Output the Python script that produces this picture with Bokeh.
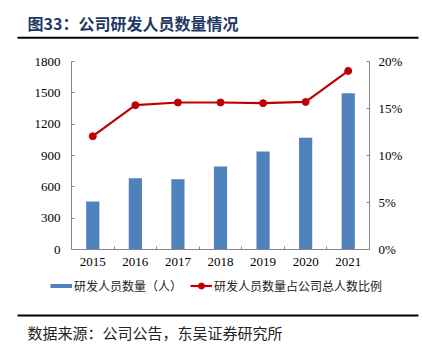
from bokeh.plotting import figure
from bokeh.models import (Range1d, LinearAxis, FixedTicker, Label, BoxAnnotation,
                          NumeralTickFormatter, Legend, LegendItem, ColumnDataSource)
from bokeh.embed import file_html
from bokeh.resources import INLINE

# ---------------- data ----------------
years = ["2015", "2016", "2017", "2018", "2019", "2020", "2021"]
staff = [460, 683, 673, 795, 939, 1070, 1497]              # 研发人员数量（人）
ratio_pct = [12.05, 15.35, 15.64, 15.64, 15.57, 15.70, 19.0]  # 占比 %
left_ticks = [0, 300, 600, 900, 1200, 1500, 1800]
right_ticks = [0, 0.05, 0.10, 0.15, 0.20]

title_text = "图33：公司研发人员数量情况"
source_text = "数据来源：公司公告，东吴证券研究所"
bar_label = "研发人员数量（人）"
line_label = "研发人员数量占公司总人数比例"

BLUE = "#4f81bd"
RED = "#c00000"
AXIS = "#868686"
SERIF = "Liberation Serif"
CJK = "Noto Sans CJK SC"

n = len(years)
centers = [i + 0.5 for i in range(n)]
bounds = [i for i in range(1, n)]
YMAX, PMAX = 1800, 0.2

src = ColumnDataSource(dict(x=centers, staff=staff,
                            ratio=[r / 100 for r in ratio_pct]))

# canvas & plot-area geometry (px); the frame covers the whole canvas and the
# axes are pinned to the plot-area edges with fixed_location
W, H = 423, 349
AL, AR, AT, AB = 71, 369, 61, 249
kx = n / (AR - AL)
ky = YMAX / (AB - AT)
kp = PMAX / (AB - AT)
x_range = Range1d(-AL * kx, n + (W - AR) * kx)
y_range = Range1d(-(H - AB) * ky, YMAX + AT * ky)
p_range = Range1d(-(H - AB) * kp, PMAX + AT * kp)

p = figure(width=W, height=H, x_range=x_range, y_range=y_range,
           x_axis_location=None, y_axis_location=None,
           output_backend="svg", toolbar_location=None, min_border=0)
p.outline_line_color = None
p.grid.visible = False
p.extra_y_ranges = {"pct": p_range}

left = LinearAxis(fixed_location=0, bounds=(0, YMAX),
                  ticker=FixedTicker(ticks=left_ticks), axis_line_color=AXIS,
                  major_tick_line_color=AXIS, major_tick_in=3, major_tick_out=0,
                  minor_tick_line_color=None, major_label_standoff=11,
                  major_label_text_font=SERIF, major_label_text_font_size="13px",
                  major_label_text_color="#000000")
p.add_layout(left, "left")

right = LinearAxis(y_range_name="pct", fixed_location=n, bounds=(0, PMAX),
                   ticker=FixedTicker(ticks=right_ticks),
                   formatter=NumeralTickFormatter(format="0%"), axis_line_color=AXIS,
                   major_tick_line_color=AXIS, major_tick_in=3, major_tick_out=0,
                   minor_tick_line_color=None, major_label_standoff=9,
                   major_label_text_font=SERIF, major_label_text_font_size="13px",
                   major_label_text_color="#000000")
p.add_layout(right, "right")

tick_axis = LinearAxis(fixed_location=0, bounds=(0, n),
                       ticker=FixedTicker(ticks=bounds),
                       axis_line_color=AXIS, major_tick_line_color=AXIS,
                       major_tick_in=3, major_tick_out=0, minor_tick_line_color=None,
                       major_label_text_color=None, major_label_text_font_size="1px",
                       major_label_standoff=0)
p.add_layout(tick_axis, "below")

year_axis = LinearAxis(fixed_location=0, ticker=FixedTicker(ticks=centers),
                       major_label_overrides={c: y for c, y in zip(centers, years)},
                       axis_line_color=None, major_tick_line_color=None,
                       major_tick_in=0, major_tick_out=0, minor_tick_line_color=None,
                       major_label_standoff=8,
                       major_label_text_font=SERIF, major_label_text_font_size="13px",
                       major_label_text_color="#000000")
p.add_layout(year_axis, "below")

bars = p.vbar(x="x", top="staff", width=0.31, source=src, fill_color=BLUE,
              line_color=None)
ln = p.line(x="x", y="ratio", source=src, y_range_name="pct", line_color=RED,
            line_width=2.2)
pts = p.scatter(x="x", y="ratio", source=src, y_range_name="pct", size=7,
                fill_color=RED, line_color=RED)

# hidden legend proxy for the bar series (drawn in the legend as a thick short stroke)
proxy = p.line(x="x", y="staff", source=src, line_color=BLUE, line_width=4,
               visible=False)

legend = Legend(items=[LegendItem(label=bar_label, renderers=[proxy]),
                       LegendItem(label=line_label, renderers=[ln, pts])],
                orientation="horizontal", location=(50, H - 294),
                glyph_width=22, glyph_height=15, label_height=15, label_standoff=2,
                spacing=8, padding=0, margin=0,
                label_text_font=CJK, label_text_font_size="12px",
                label_text_color="#222222", inactive_fill_alpha=0,
                border_line_color=None, background_fill_color=None)
p.add_layout(legend)

# title, rules and source note (screen units, y measured up from the bottom)
p.add_layout(Label(x=27, y=H - 22.7, x_units="screen", y_units="screen", text=title_text,
                   text_font=CJK, text_font_style="bold", text_font_size="16px",
                   text_color="#1f3864", text_baseline="middle"))
p.add_layout(BoxAnnotation(left=17, right=418, top=H - 36.3, bottom=H - 38.3,
                           left_units="screen", right_units="screen",
                           top_units="screen", bottom_units="screen",
                           fill_color="#000000", fill_alpha=1, line_color=None))
p.add_layout(BoxAnnotation(left=17, right=418, top=H - 314, bottom=H - 316,
                           left_units="screen", right_units="screen",
                           top_units="screen", bottom_units="screen",
                           fill_color="#000000", fill_alpha=1, line_color=None))
p.add_layout(Label(x=27, y=H - 331.7, x_units="screen", y_units="screen", text=source_text,
                   text_font=CJK, text_font_size="15px", text_color="#222222",
                   text_baseline="middle"))

open("out.html", "w").write(file_html(p, INLINE))
